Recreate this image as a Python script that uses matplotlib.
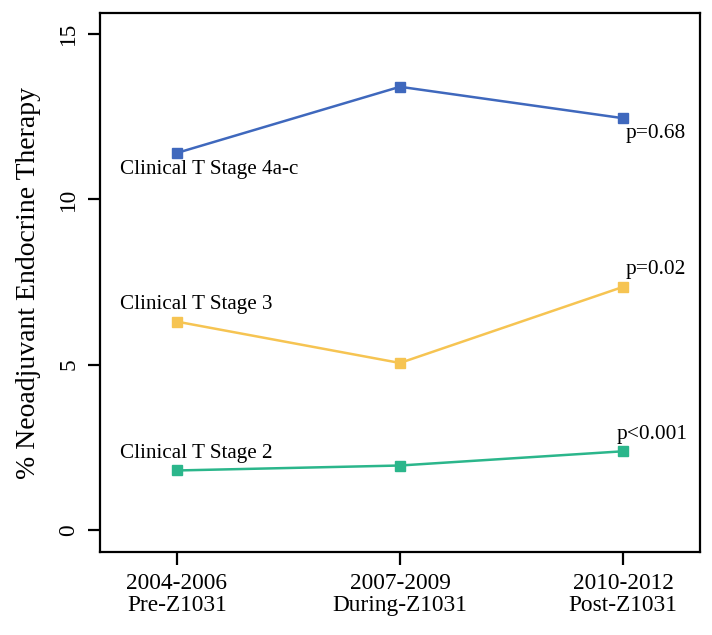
"""
Neoadjuvant endocrine therapy use by clinical T stage across Z1031 periods.
Saves out.png
"""
import matplotlib
matplotlib.use("Agg")
import matplotlib.pyplot as plt

plt.rcParams["font.family"] = ["Liberation Serif", "DejaVu Serif"]

periods = ["2004-2006\nPre-Z1031", "2007-2009\nDuring-Z1031", "2010-2012\nPost-Z1031"]
x = [1, 2, 3]

stage4 = [11.4, 13.4, 12.45]
stage3 = [6.3, 5.05, 7.35]
stage2 = [1.8, 1.95, 2.38]

series_names = ["Clinical T Stage 4a-c", "Clinical T Stage 3", "Clinical T Stage 2"]
p_values = ["p=0.68", "p=0.02", "p<0.001"]
colors = ["#3f68bd", "#f6c452", "#2bb68b"]


fig = plt.figure(figsize=(7.12, 6.35), dpi=100)
ax = fig.add_axes([0.1404, 0.1307, 0.8427, 0.8488])

for y, name, p, c, below in zip([stage4, stage3, stage2], series_names,
                                p_values, colors, [True, False, False]):
    ax.plot(x, y, color=c, linewidth=1.8, marker="s", markersize=6.5)
    # series name near the first point, p-value near the last
    ax.annotate(name, (x[0], y[0]), xytext=(-57, -17 if below else 17),
                textcoords="offset pixels", ha="left", va="center", fontsize=15.2)
    dx = -6 if p.startswith("p<") else 3
    ax.annotate(p, (x[-1], y[-1]), xytext=(dx, -15 if below else 17),
                textcoords="offset pixels", ha="left", va="center", fontsize=15.4)

ax.set_xlim(0.655, 3.345)
ax.set_ylim(-0.665, 15.63)
ax.set_xticks(x)
ax.set_xticklabels(periods, fontsize=16.8, linespacing=1.1)
ax.set_yticks([0, 5, 10, 15])
ax.set_yticklabels(["0", "5", "10", "15"], fontsize=16.8, rotation=90, va="center")
ax.set_ylabel("% Neoadjuvant Endocrine Therapy", fontsize=20, labelpad=12)

for s in ax.spines.values():
    s.set_linewidth(1.6)
ax.tick_params(length=9, width=1.6, pad=6)

fig.savefig("out.png", dpi=100)
